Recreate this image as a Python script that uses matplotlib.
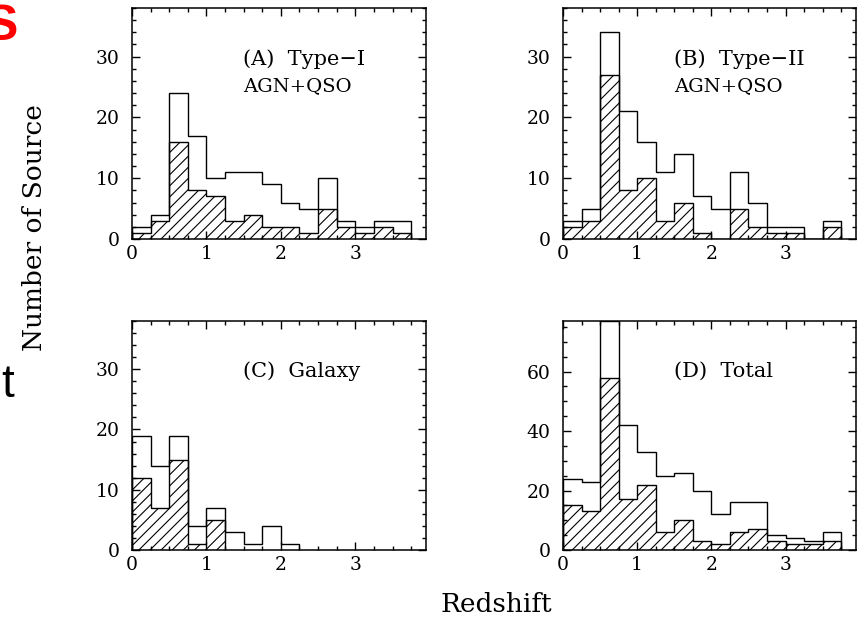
import numpy as np
import matplotlib
matplotlib.use("Agg")
import matplotlib.pyplot as plt
from matplotlib.ticker import MultipleLocator

# redshift bins of width 0.25
edges = np.arange(0, 4.0, 0.25)

# (A) Type-I AGN+QSO
a_all = [2, 4, 24, 17, 10, 11, 11, 9, 6, 5, 10, 3, 2, 3, 3]
a_hat = [1, 3, 16, 8, 7, 3, 4, 2, 2, 1, 5, 2, 1, 2, 1]
# (B) Type-II AGN+QSO
b_all = [3, 5, 34, 21, 16, 11, 14, 7, 5, 11, 6, 2, 2, 0, 3]
b_hat = [2, 3, 27, 8, 10, 3, 6, 1, 0, 5, 2, 1, 1, 0, 2]
# (C) Galaxy
c_all = [19, 14, 19, 4, 7, 3, 1, 4, 1]
c_hat = [12, 7, 15, 1, 5]
# (D) Total
d_all = [24, 23, 77, 42, 33, 25, 26, 20, 12, 16, 16, 5, 4, 3, 6]
d_hat = [15, 13, 58, 17, 22, 6, 10, 3, 2, 6, 7, 3, 2, 2, 3]

labels = [["(A)  Type\u2212I", "AGN+QSO"], ["(B)  Type\u2212II", "AGN+QSO"],
          ["(C)  Galaxy"], ["(D)  Total"]]

plt.rcParams["hatch.linewidth"] = 0.8
serif = "DejaVu Serif"

fig = plt.figure(figsize=(8.61, 6.2), dpi=100)
W, H = 861, 620
boxes = [(132, 8, 426, 239), (563, 8, 856, 239),
         (132, 321, 426, 550), (563, 321, 856, 550)]
data = [(a_all, a_hat, 38, 10, 2), (b_all, b_hat, 38, 10, 2),
        (c_all, c_hat, 38, 10, 2), (d_all, d_hat, 77, 20, 5)]

for i, (box, (tot, hat, ytop, ymaj, ymin)) in enumerate(zip(boxes, data)):
    l, t, r, b = box
    ax = fig.add_axes([l / W, 1 - b / H, (r - l) / W, (b - t) / H])
    ax.stairs(hat, edges[:len(hat) + 1], fill=True, facecolor="none",
              edgecolor="black", hatch="///", lw=1.0)
    ax.stairs(tot, edges[:len(tot) + 1], color="black", lw=1.0, baseline=0)
    ax.set_xlim(0, 3.95)
    ax.set_ylim(0, ytop)
    ax.xaxis.set_major_locator(MultipleLocator(1))
    ax.xaxis.set_minor_locator(MultipleLocator(0.25))
    ax.yaxis.set_major_locator(MultipleLocator(ymaj))
    ax.yaxis.set_minor_locator(MultipleLocator(ymin))
    ax.tick_params(which="both", direction="in", top=True, right=True,
                   labelsize=13.5, width=1.0)
    ax.tick_params(which="major", length=6)
    ax.tick_params(which="minor", length=3)
    ax.tick_params(axis="y", pad=9)
    ax.tick_params(axis="x", pad=4)
    for lab in ax.get_xticklabels() + ax.get_yticklabels():
        lab.set_family(serif)
    for s in ax.spines.values():
        s.set_linewidth(1.1)
    txt = labels[i]
    ax.text(0.378, 0.78, txt[0], transform=ax.transAxes, fontsize=15,
            family=serif, ha="left", va="center")
    if len(txt) > 1:
        ax.text(0.378, 0.66, txt[1], transform=ax.transAxes, fontsize=14,
                family=serif, ha="left", va="center")

fig.text(35 / W, 1 - 228 / H, "Number of Source", rotation=90, fontsize=19,
         family=serif, ha="center", va="center")
fig.text(496 / W, 1 - 604 / H, "Redshift", fontsize=19,
         family=serif, ha="center", va="center")

# slide fragments at the left edge
fig.text(-15 / W, 1 - 27 / H, "S", color="red", fontsize=36,
         fontweight="bold", family="Liberation Sans", ha="left", va="center")
fig.text(1 / W, 1 - 385 / H, "t", color="black", fontsize=33,
         family="Liberation Sans", ha="left", va="center")

fig.savefig("out.png", dpi=100)
